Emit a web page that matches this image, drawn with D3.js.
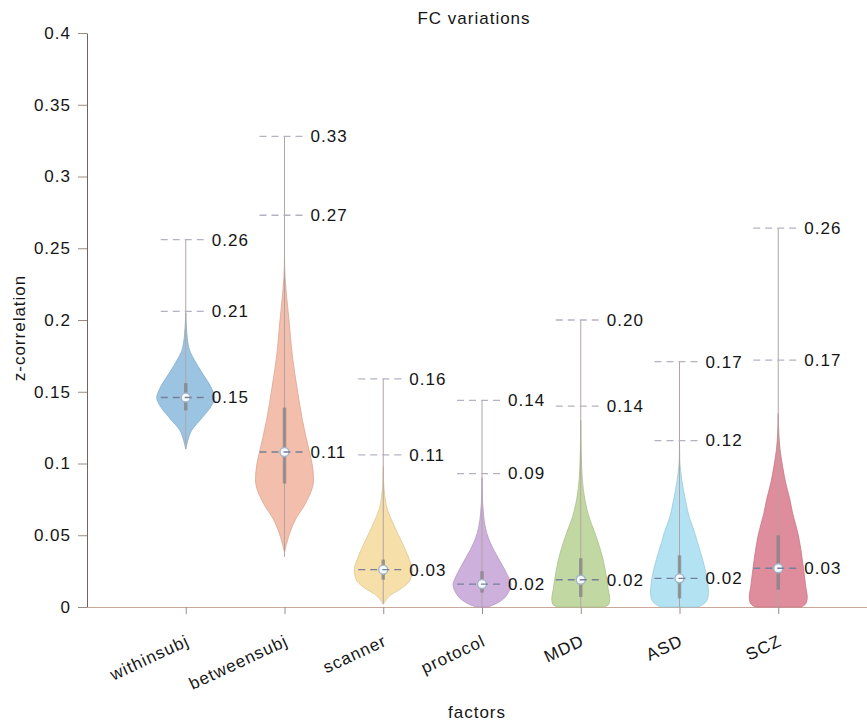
<!DOCTYPE html>
<html>
<head>
<meta charset="utf-8">
<script src="https://cdn.jsdelivr.net/npm/d3@7"></script>
<style>
  body { margin: 0; background: #fff; }
  text { font-family: "Liberation Sans", Arial, sans-serif; fill: #151515; letter-spacing: 1px; }
</style>
</head>
<body>
<div id="chart"></div>
<script>
// categories and summary values
const categories = ["withinsubj", "betweensubj", "scanner", "protocol", "MDD", "ASD", "SCZ"];
const palette = ["#92bfe1", "#f2b9a4", "#f5dca2", "#caa9d9", "#bdd59b", "#ade0f2", "#dc8395"];

const medians = [0.146, 0.108, 0.026, 0.016, 0.019, 0.020, 0.027];
const maxVals = [0.256, 0.328, 0.159, 0.144, 0.200, 0.171, 0.264];
const midMarks = [0.206, 0.273, 0.106, 0.093, 0.140, 0.116, 0.172];
const minVals = [0.110, 0.035, 0.002, 0, 0, 0, 0];
const q1 = [0.137, 0.086, 0.019, 0.010, 0.007, 0.006, 0.012];
const q3 = [0.156, 0.139, 0.033, 0.025, 0.034, 0.036, 0.050];

// density profiles [value, relative density]
const densWithin = [[0.110, 0], [0.116, 0.07], [0.123, 0.2], [0.132, 0.57], [0.140, 0.88], [0.146, 1.0],
  [0.152, 0.9], [0.163, 0.57], [0.172, 0.3], [0.179, 0.13], [0.190, 0.04], [0.200, 0.01], [0.205, 0]];
const densBetween = [[0.038, 0], [0.049, 0.14], [0.061, 0.38], [0.072, 0.72], [0.0885, 1.0], [0.100, 0.95],
  [0.108, 0.86], [0.130, 0.62], [0.153, 0.43], [0.175, 0.27], [0.200, 0.155], [0.215, 0.08], [0.230, 0.02], [0.245, 0]];
const densScanner = [[0.002, 0], [0.005, 0.1], [0.009, 0.3], [0.012, 0.55], [0.019, 0.93], [0.026, 1.0],
  [0.033, 0.9], [0.040, 0.76], [0.052, 0.48], [0.060, 0.3], [0.068, 0.14], [0.078, 0.05], [0.088, 0.01], [0.098, 0]];
const densProtocol = [[0.0, 0.2], [0.002, 0.45], [0.005, 0.7], [0.0098, 0.9], [0.016, 1.0], [0.019, 0.95], [0.028, 0.73],
  [0.040, 0.4], [0.048, 0.22], [0.056, 0.11], [0.065, 0.05], [0.079, 0.01], [0.090, 0]];
const densMDD = [[0.0, 0.8], [0.002, 0.97], [0.006, 1.0], [0.012, 0.95], [0.019, 0.9], [0.033, 0.77], [0.045, 0.6],
  [0.052, 0.48], [0.063, 0.28], [0.075, 0.14], [0.090, 0.05], [0.105, 0.02], [0.116, 0.005], [0.13, 0]];
const densASD = [[0.0, 0.65], [0.004, 0.93], [0.010, 1.0], [0.020, 0.95], [0.033, 0.8], [0.045, 0.62], [0.052, 0.52],
  [0.063, 0.33], [0.075, 0.2], [0.087, 0.09], [0.095, 0.04], [0.102, 0.01], [0.115, 0]];
const densSCZ = [[0.0, 0.8], [0.003, 0.97], [0.007, 1.0], [0.014, 0.95], [0.027, 0.87], [0.033, 0.83], [0.052, 0.67],
  [0.065, 0.5], [0.075, 0.4], [0.087, 0.25], [0.098, 0.15], [0.110, 0.06], [0.121, 0.02], [0.135, 0]];
const densities = [densWithin, densBetween, densScanner, densProtocol, densMDD, densASD, densSCZ];

const yTicks = [0, 0.05, 0.1, 0.15, 0.2, 0.25, 0.3, 0.35, 0.4];

const width = 867;
const height = 724;
const margin = { top: 33, right: 0, bottom: 117, left: 87 };

const svg = d3.select("#chart")
  .append("svg")
  .attr("width", width)
  .attr("height", height);

const x = d3.scalePoint()
  .domain(categories)
  .range([margin.left, margin.left + 790])
  .padding(1);

const y = d3.scaleLinear()
  .domain([0, 0.4])
  .range([height - margin.bottom, margin.top]);

const w = d3.scaleLinear().domain([0, 1]).range([0, 29]);
const color = d3.scaleOrdinal(categories, palette);
const fmt = d3.format(".2f");

// axes
const xAxis = svg.append("g")
  .attr("transform", `translate(0,${y(0)})`)
  .call(d3.axisBottom(x).tickSize(7).tickSizeOuter(0));
xAxis.select(".domain").attr("stroke", "#c9a898");
xAxis.selectAll(".tick line").attr("stroke", "#9a8c84");
xAxis.selectAll(".tick text")
  .attr("x", 0).attr("y", 0).attr("dy", null)
  .attr("text-anchor", "end")
  .attr("transform", "translate(4,38) rotate(-25)")
  .style("font-size", "17px")
  .attr("fill", null);

const yAxis = svg.append("g")
  .attr("transform", `translate(${margin.left},0)`)
  .call(d3.axisLeft(y).tickValues(yTicks).tickFormat(d3.format("~g"))
    .tickSize(9).tickPadding(7).tickSizeOuter(0));
yAxis.select(".domain").attr("stroke", "#6f6460");
yAxis.selectAll(".tick line").attr("stroke", "#9a8c84");
yAxis.selectAll(".tick text").style("font-size", "17px").attr("fill", null);

// titles
svg.append("text")
  .attr("x", 474).attr("y", 24)
  .attr("text-anchor", "middle")
  .style("font-size", "17px")
  .text("FC variations");

svg.append("text")
  .attr("x", 477).attr("y", 718)
  .attr("text-anchor", "middle")
  .style("font-size", "17px")
  .text("factors");

svg.append("text")
  .attr("transform", "translate(25,328) rotate(-90)")
  .attr("text-anchor", "middle")
  .style("font-size", "17px")
  .text("z-correlation");

// violins
const area = d3.area()
  .curve(d3.curveMonotoneY)
  .y((d) => y(d[0]));

const g = svg.append("g")
  .selectAll("g")
  .data(categories)
  .join("g");

g.append("path")
  .attr("d", (c, i) => {
    const cx = x(c);
    return area.x0((d) => cx - w(d[1])).x1((d) => cx + w(d[1]))(densities[i]);
  })
  .attr("fill", (c) => color(c))
  .attr("fill-opacity", 0.92)
  .attr("stroke", (c) => d3.color(color(c)).darker(0.3))
  .attr("stroke-width", 0.8);

// full range
g.append("line")
  .attr("x1", (c) => x(c)).attr("x2", (c) => x(c))
  .attr("y1", (c, i) => y(maxVals[i]))
  .attr("y2", (c, i) => y(minVals[i]))
  .attr("stroke", "#b3a3a3")
  .attr("stroke-width", 1);

// interquartile bar
g.append("line")
  .attr("x1", (c) => x(c)).attr("x2", (c) => x(c))
  .attr("y1", (c, i) => y(q3[i]))
  .attr("y2", (c, i) => y(q1[i]))
  .attr("stroke", "#7f7f7f")
  .attr("stroke-opacity", 0.7)
  .attr("stroke-width", 3.5);

// dashed marks with labels
const marks = categories.flatMap((c, i) => [
  { c, v: maxVals[i], med: false },
  { c, v: midMarks[i], med: false },
  { c, v: medians[i], med: true }
]);

svg.append("g")
  .selectAll("line")
  .data(marks)
  .join("line")
  .attr("x1", (d) => x(d.c) - 25)
  .attr("x2", (d) => x(d.c) + 23)
  .attr("y1", (d) => y(d.v))
  .attr("y2", (d) => y(d.v))
  .attr("stroke", (d) => (d.med ? "#75809a" : "#b4b2c2"))
  .attr("stroke-width", 1.3)
  .attr("stroke-dasharray", "7,5");

svg.append("g")
  .selectAll("text")
  .data(marks)
  .join("text")
  .attr("x", (d) => x(d.c) + 26)
  .attr("y", (d) => y(d.v))
  .attr("dy", "0.35em")
  .style("font-size", "17px")
  .text((d) => fmt(d.v));

// median dots
g.append("circle")
  .attr("cx", (c) => x(c))
  .attr("cy", (c, i) => y(medians[i]))
  .attr("r", 4.5)
  .attr("fill", "#f6f9fb")
  .attr("stroke", "#9fb3c8")
  .attr("stroke-width", 1.3);
</script>
</body>
</html>
